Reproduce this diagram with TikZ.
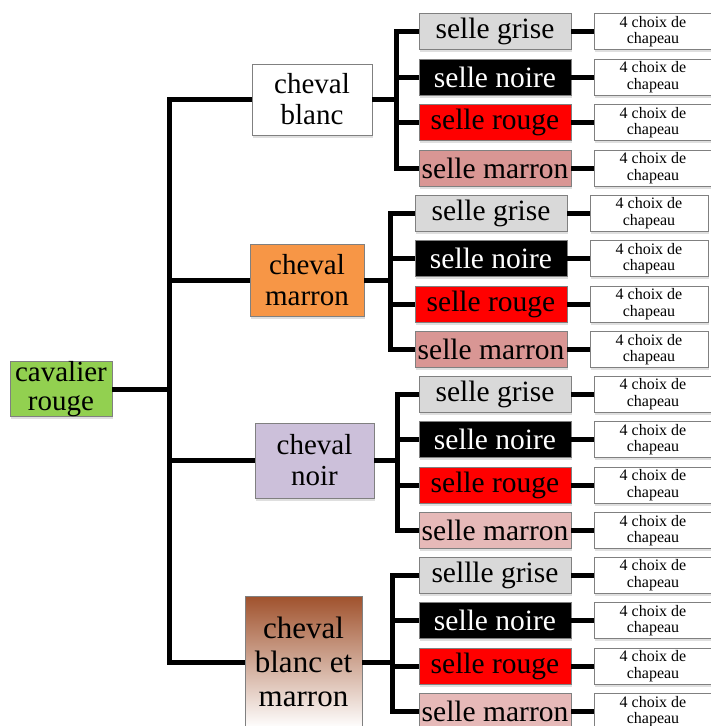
\documentclass[tikz,border=0pt]{standalone}
\usepackage{fontspec}
\setmainfont{Liberation Serif}
\usetikzlibrary{shadows}

\definecolor{vert}{RGB}{146,208,80}
\definecolor{orangecheval}{RGB}{247,150,70}
\definecolor{lavande}{RGB}{204,192,218}
\definecolor{gris}{RGB}{217,217,217}
\definecolor{marronA}{RGB}{217,150,148}
\definecolor{marronB}{RGB}{230,185,184}
\definecolor{brun}{RGB}{160,82,45}

\tikzset{
    box/.style = {draw = black!50, line width = 0.8pt, inner sep = 0pt, align = center,
        drop shadow = {shadow xshift = 1pt, shadow yshift = -2.5pt, opacity = 0.25}},
    chevalbox/.style = {box, font = \fontsize{29}{31}\selectfont},
    sellebox/.style = {box, minimum width = 152pt, minimum height = 36pt,
        font = \fontsize{29.5}{30}\selectfont},
    hatbox/.style = {box, fill = white, minimum width = 118pt, minimum height = 36pt,
        font = \fontsize{16}{16.5}\selectfont},
    link/.style = {line width = 5pt}
}

\begin{document}
\begin{tikzpicture}[%
        x = 1pt,
        y = -1pt
    ]

        \useasboundingbox (0, 0) rectangle (711, 726);

        % The rider and the four horses.
        \node[box, fill = vert, minimum width = 102pt, minimum height = 54pt,
            font = \fontsize{29}{28.5}\selectfont] (cav) at (61, 389) {cavalier\\rouge};
        \node[chevalbox, fill = white, minimum width = 120pt, minimum height = 71pt]
            (cb) at (312, 99.5) {cheval\\blanc};
        \node[chevalbox, fill = orangecheval, minimum width = 114pt, minimum height = 72pt]
            (cm) at (307, 280) {cheval\\marron};
        \node[chevalbox, fill = lavande, minimum width = 119pt, minimum height = 75pt]
            (cn) at (314.5, 460.5) {cheval\\noir};
        \node[chevalbox, top color = brun, middle color = white, bottom color = white,
            minimum width = 117pt, minimum height = 132pt,
            font = \fontsize{31}{34}\selectfont] (cbm) at (303.5, 662) {cheval\\blanc et\\marron};

        % Trunk from the rider to the horses.
        \coordinate (T) at (169, 389);
        \draw[link] (cav.east) -- (T);
        \draw[link] (cb.west) -| (T) |- (cbm.west);
        \draw[link] (cm.west) -- (cm.west -| T);
        \draw[link] (cn.west) -- (cn.west -| T);

        % Saddles and hats for each horse.
        \foreach \g/\h/\bx/\sx/\hx/\ys/\mar/\gl in {%
                1/cb/396/495/653/31.5/marronA/selle grise,
                2/cm/390/491/649/213/marronA/selle grise,
                3/cn/397/495/653/394/marronB/selle grise,
                4/cbm/392/495/653/575/marronB/sellle grise} {
            \foreach \lab/\col/\txt [count = \i] in {%
                    \gl/gris/black, selle noire/black/white,
                    selle rouge/red/black, selle marron/\mar/black} {
                \node[sellebox, fill = \col, text = \txt] (s\g\i) at (\sx, \ys + 45.5*\i - 45.5) {\lab};
                \node[hatbox] (h\g\i) at (\hx, \ys + 45.5*\i - 45.5) {4 choix de\\chapeau};
                \draw[link] (s\g\i.east) -- (h\g\i.west);
            }
            \coordinate (b\g) at (\bx, 0);
            \draw[link] (\h.east) -- (\h.east -| b\g);
            \draw[link] (s\g1.west) -| (s\g4.west -| b\g) -- (s\g4.west);
            \draw[link] (s\g2.west) -- (s\g2.west -| b\g);
            \draw[link] (s\g3.west) -- (s\g3.west -| b\g);
        }
    \end{tikzpicture}
\end{document}
